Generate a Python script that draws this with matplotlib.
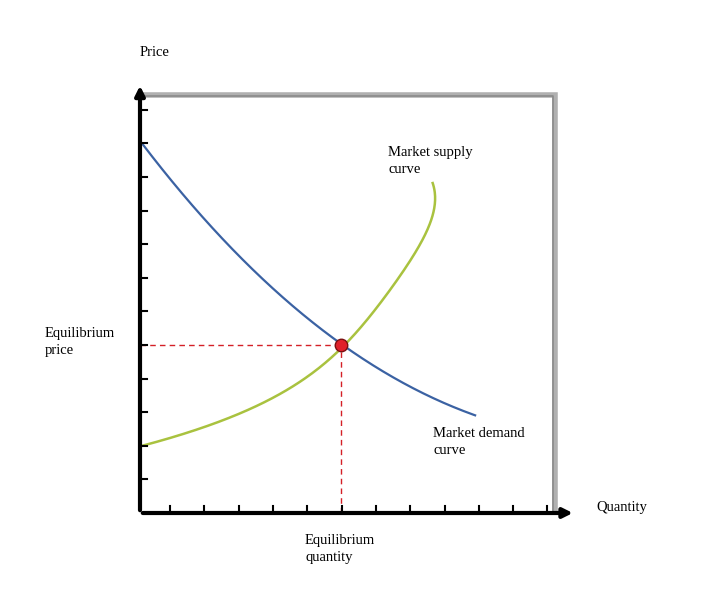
import matplotlib
matplotlib.use("Agg")
import matplotlib.pyplot as plt
import numpy as np
from matplotlib.patches import Rectangle

plt.rcParams['font.family'] = ['Liberation Serif', 'DejaVu Serif']

demand_x = [0.06, 0.67, 1.37, 2.33, 3.3, 4.6, 5.86, 7.2, 8.16, 9.77]
demand_y = [10.95, 10.2, 9.46, 8.2, 7.23, 6.0, 5.0, 4.17, 3.66, 2.88]
supply_x = [0.0, 2.33, 3.3, 5.86, 7.0, 7.67, 7.96, 8.45, 8.54, 8.6]
supply_y = [2.0, 2.68, 3.15, 5.0, 6.25, 7.02, 7.62, 8.8, 9.4, 9.82]
eq_x, eq_y = 5.86, 5.0
x_ticks = [0.88 + k for k in range(12)]
y_ticks = [1.0 + k for k in range(12)]

W, H = 710, 599
fig = plt.figure(figsize=(W/100, H/100), dpi=100)
ux, uy = 34.3, 33.6
xmax, ymax = 12.7, 12.8
ax = fig.add_axes([140/W, 86/H, xmax*ux/W, ymax*uy/H])
ax.set_xlim(0, xmax); ax.set_ylim(0, ymax)
ax.axis('off')

# shadowed frame
ax.plot([0, 12.1, 12.1], [12.44, 12.44, 0], color='#b0b0b0', lw=4, zorder=1, solid_joinstyle='miter')
ax.plot([0, 12.05, 12.05], [12.40, 12.40, 0], color='#8a8a8a', lw=1.2, zorder=1.2)

ax.annotate('', xy=(xmax, 0), xytext=(0, 0), arrowprops=dict(arrowstyle='-|>', lw=3, color='black', mutation_scale=14), zorder=5)
ax.annotate('', xy=(0, ymax), xytext=(0, 0), arrowprops=dict(arrowstyle='-|>', lw=3, color='black', mutation_scale=14), zorder=5)
for t in x_ticks:
    ax.plot([t, t], [-0.2, 0.2], color='black', lw=1.5, zorder=5)
for t in y_ticks:
    ax.plot([-0.2, 0.2], [t, t], color='black', lw=1.5, zorder=5)

ax.plot([0, eq_x], [eq_y, eq_y], color='#d42027', lw=1, ls=(0, (4, 3)), zorder=3)
ax.plot([eq_x, eq_x], [0, eq_y], color='#d42027', lw=1, ls=(0, (4, 3)), zorder=3)

# smooth curves fitted through the read points
dc = np.polyfit(demand_x, demand_y, 3)
dx = np.linspace(demand_x[0], demand_x[-1], 200)
ax.plot(dx, np.polyval(dc, dx), color='#3b62a3', lw=1.6, zorder=4)
sc = np.polyfit(supply_y, supply_x, 4)
sy = np.linspace(supply_y[0], supply_y[-1], 200)
ax.plot(np.polyval(sc, sy), sy, color='#a9c23f', lw=1.8, zorder=4)
ax.plot([eq_x], [eq_y], 'o', color='#e0202a', mec='#7a1010', ms=9, zorder=6)

fs = 10.5
ls = 1.35
fig.text(155/W, 1-53/H, 'Price', ha='center', va='center', fontsize=fs)
fig.text(596/W, 1-508/H, 'Quantity', ha='left', va='center', fontsize=fs)
fig.text(45/W, 1-342/H, 'Equilibrium\nprice', ha='left', va='center', fontsize=fs, linespacing=ls)
fig.text(305/W, 1-549/H, 'Equilibrium\nquantity', ha='left', va='center', fontsize=fs, linespacing=ls)
fig.text(388/W, 1-161/H, 'Market supply\ncurve', ha='left', va='center', fontsize=fs, linespacing=ls)
fig.text(433/W, 1-442/H, 'Market demand\ncurve', ha='left', va='center', fontsize=fs, linespacing=ls)

fig.savefig('out.png', dpi=100)
